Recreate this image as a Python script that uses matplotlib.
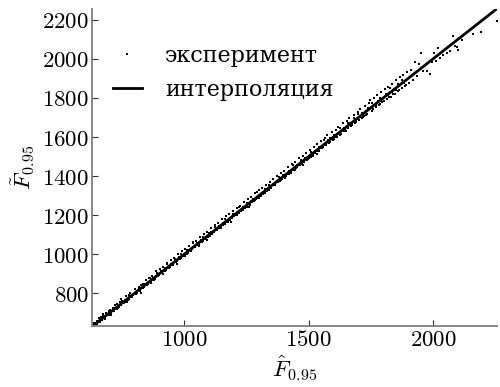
import matplotlib
matplotlib.use("Agg")
import matplotlib.pyplot as plt
from matplotlib.ticker import FuncFormatter, FixedLocator

plt.rcParams['mathtext.fontset'] = 'cm'
plt.rcParams['font.family'] = ['DejaVu Serif']

# experimental points (first batch)
x_exp = [640, 645, 651, 656, 662, 667, 671, 676, 682, 688, 693, 697, 703, 708, 714, 719, 724, 729, 735, 741,
         746, 751, 757, 762, 768, 773, 779, 784, 790, 795, 801, 806, 812, 817, 823, 828, 834, 839, 845, 850,
         856, 861, 867, 872, 878, 883, 889, 894, 900, 905, 911, 916, 922, 927, 933, 938, 944, 949, 955, 960,
         966, 971, 977, 982, 988, 993, 999, 1004, 1010, 1015, 1021, 1026, 1032, 1037, 1043, 1048, 1054, 1059,
         1065, 1070, 1076, 1081, 1087, 1092, 1098, 1103, 1109, 1114, 1120, 1125, 1131, 1136, 1142, 1147, 1153,
         1158, 1164, 1169, 1175, 1180, 1186, 1191, 1197, 1202, 1208, 1213, 1219, 1224, 1230, 1235, 1241, 1246,
         1252, 1257, 1263, 1268, 1274, 1279, 1285, 1290, 1296, 1301, 1307, 1312, 1318, 1323, 1329, 1334, 1340,
         1345, 1351, 1356, 1362, 1367, 1373, 1378, 1384, 1389, 1395, 1400, 1406, 1411, 1417, 1422, 1428, 1433,
         1439, 1444, 1450, 1455, 1461, 1466, 1472, 1477, 1483, 1488, 1494, 1499, 1505, 1510, 1516, 1521, 1527,
         1532, 1538, 1543, 1549, 1554, 1560, 1565, 1571, 1576, 1582, 1587, 1593, 1598, 1604, 1609, 1615, 1620,
         1626, 1631, 1637, 1642, 1648, 1653, 1659, 1664, 1670, 1675, 1681, 1686, 1692, 1697, 1703, 1708, 1714,
         1719, 1725, 1730, 1736, 1741, 1748, 1753, 1759, 1764, 1770, 1775, 1781, 1786, 1792, 1797, 1803, 1808,
         1814, 1819, 1825, 1830, 1836, 1841, 1847, 1852, 1858, 1863, 1869, 1874, 1880, 1886, 1891, 1897, 1903,
         1910, 1918, 1929, 1936, 1945, 1953, 1961, 1977, 1989, 1996, 2005, 2013, 2021, 2030, 2042, 2055, 2068,
         2082, 2090, 2098, 2102, 2115, 2162, 2191, 2257]
y_exp = [648, 637, 660, 652, 655, 679, 666, 684, 676, 701, 689, 690, 716, 701, 722, 712, 741, 722, 727, 755,
         740, 763, 749, 758, 789, 766, 772, 801, 784, 790, 822, 799, 807, 834, 814, 845, 829, 831, 866, 844,
         849, 879, 860, 891, 871, 876, 912, 887, 895, 925, 903, 934, 915, 919, 958, 932, 937, 971, 947, 979,
         961, 965, 1001, 975, 981, 1016, 991, 1026, 1003, 1009, 1044, 1018, 1027, 1061, 1035, 1070, 1047, 1052,
         1090, 1062, 1069, 1104, 1078, 1116, 1091, 1095, 1135, 1106, 1113, 1149, 1122, 1158, 1134, 1140, 1180,
         1150, 1157, 1194, 1167, 1205, 1177, 1184, 1222, 1195, 1200, 1237, 1211, 1249, 1222, 1227, 1268, 1238,
         1244, 1283, 1254, 1295, 1266, 1271, 1312, 1282, 1288, 1327, 1297, 1339, 1310, 1314, 1357, 1325, 1331,
         1371, 1342, 1384, 1353, 1358, 1402, 1368, 1375, 1416, 1385, 1428, 1397, 1401, 1446, 1412, 1418, 1460,
         1429, 1473, 1440, 1445, 1492, 1456, 1462, 1505, 1472, 1518, 1483, 1488, 1535, 1499, 1505, 1549, 1516,
         1563, 1527, 1531, 1581, 1543, 1548, 1594, 1559, 1608, 1570, 1574, 1625, 1586, 1591, 1638, 1602, 1652,
         1613, 1617, 1670, 1629, 1634, 1683, 1645, 1697, 1656, 1660, 1715, 1672, 1677, 1729, 1688, 1742, 1699,
         1702, 1760, 1714, 1720, 1773, 1789, 1735, 1741, 1800, 1752, 1814, 1762, 1767, 1830, 1778, 1782, 1845,
         1793, 1858, 1804, 1806, 1873, 1818, 1822, 1890, 1834, 1839, 1905, 1850, 1916, 1860, 1866, 1932, 1876,
         1945, 1890, 1983, 1914, 1975, 2030, 1940, 1937, 1922, 1985, 2030, 1990, 2055, 2005, 2022, 2030, 2040,
         2117, 2065, 2060, 2045, 2095, 2127, 2137, 2193]

# experimental points (second batch)
x_exp2 = [644, 652, 660, 668, 676, 684, 692, 700, 708, 716, 724, 732, 740, 748, 756, 764, 772, 780, 788, 796,
          804, 812, 820, 828, 836, 844, 852, 860, 868, 876, 884, 892, 900, 908, 916, 924, 932, 940, 948, 956,
          964, 972, 980, 988, 996, 1004, 1012, 1020, 1028, 1036, 1044, 1052, 1060, 1068, 1076, 1084, 1092, 1100,
          1108, 1116, 1124, 1132, 1140, 1148, 1156, 1164, 1172, 1180, 1188, 1196, 1204, 1212, 1220, 1228, 1236,
          1244, 1252, 1260, 1268, 1276, 1284, 1292, 1300, 1308, 1316, 1324, 1332, 1340, 1348, 1356, 1364, 1372,
          1380, 1388, 1396, 1404, 1412, 1420, 1428, 1436, 1444, 1452, 1460, 1468, 1476, 1484, 1492, 1500, 1508,
          1516, 1524, 1532, 1540, 1548, 1556, 1564, 1572, 1580, 1588, 1596, 1604, 1612, 1620, 1628, 1636, 1644,
          1652, 1660, 1668, 1676, 1684, 1692, 1700, 1708, 1716, 1724, 1732, 1740, 1748, 1756, 1764, 1772, 1780,
          1788, 1796, 1804, 1812, 1820, 1828, 1836, 1844, 1852, 1860, 1868, 1876, 1884, 1892]
y_exp2 = [649, 644, 672, 665, 694, 670, 694, 709, 688, 723, 723, 746, 731, 770, 750, 768, 756, 791, 788, 792,
          820, 801, 826, 803, 846, 847, 845, 879, 855, 877, 878, 905, 898, 916, 899, 928, 952, 930, 949, 951,
          975, 950, 986, 1003, 993, 992, 1021, 1022, 1020, 1060, 1043, 1059, 1045, 1071, 1088, 1078, 1073, 1110,
          1113, 1114, 1138, 1128, 1147, 1137, 1158, 1181, 1165, 1180, 1165, 1205, 1208, 1199, 1241, 1226, 1242,
          1235, 1265, 1242, 1271, 1284, 1279, 1318, 1286, 1309, 1310, 1335, 1329, 1356, 1338, 1361, 1355, 1375,
          1398, 1382, 1406, 1389, 1413, 1427, 1424, 1459, 1432, 1457, 1459, 1480, 1456, 1492, 1494, 1493, 1523,
          1513, 1530, 1515, 1551, 1548, 1548, 1583, 1561, 1584, 1597, 1594, 1612, 1600, 1623, 1644, 1631, 1645,
          1633, 1670, 1674, 1674, 1697, 1683, 1720, 1704, 1723, 1710, 1734, 1751, 1742, 1773, 1763, 1762, 1785,
          1802, 1780, 1807, 1821, 1813, 1850, 1833, 1848, 1843, 1872, 1866, 1891, 1878, 1893]

# interpolation line
x_fit = [630, 2257]
y_fit = [630, 2257]

x_ticks = [1000, 1500, 2000]
y_ticks = [800, 1000, 1200, 1400, 1600, 1800, 2000, 2200]
x_lim = (630, 2257)
y_lim = (633, 2255)

fig = plt.figure(figsize=(5.0, 3.87), dpi=100)
ax = fig.add_axes([0.184, 0.1576, 0.81, 0.819])

ax.plot(x_exp + x_exp2, y_exp + y_exp2, linestyle='none', marker='s', markersize=1.8,
        color='black', markeredgewidth=0, label='эксперимент')
ax.plot(x_fit, y_fit, color='black', linewidth=2.0, label='интерполяция')

ax.set_xlim(*x_lim)
ax.set_ylim(*y_lim)
ax.xaxis.set_major_locator(FixedLocator(x_ticks))
ax.yaxis.set_major_locator(FixedLocator(y_ticks))
fmt = FuncFormatter(lambda v, p: r'$%d$' % int(round(v)))
ax.xaxis.set_major_formatter(fmt)
ax.yaxis.set_major_formatter(fmt)

for s in ['top', 'right']:
    ax.spines[s].set_visible(False)
for s in ['left', 'bottom']:
    ax.spines[s].set_color('#7f7f7f')
    ax.spines[s].set_linewidth(1.3)
ax.tick_params(direction='in', length=4, width=0.8, color='#333333',
               labelsize=16.5, pad=2)

ax.set_xlabel(r'$\hat{F}_{0.95}$', fontsize=16.5, labelpad=2)
ax.set_ylabel(r'$\tilde{F}_{0.95}$', fontsize=16.5, labelpad=4)

leg = ax.legend(loc='upper left', bbox_to_anchor=(0.03, 0.915), borderaxespad=0,
                frameon=False, fontsize=16, handlelength=1.3, handletextpad=1.05,
                labelspacing=0.55, markerscale=0.8)

fig.savefig('out.png', dpi=100)
